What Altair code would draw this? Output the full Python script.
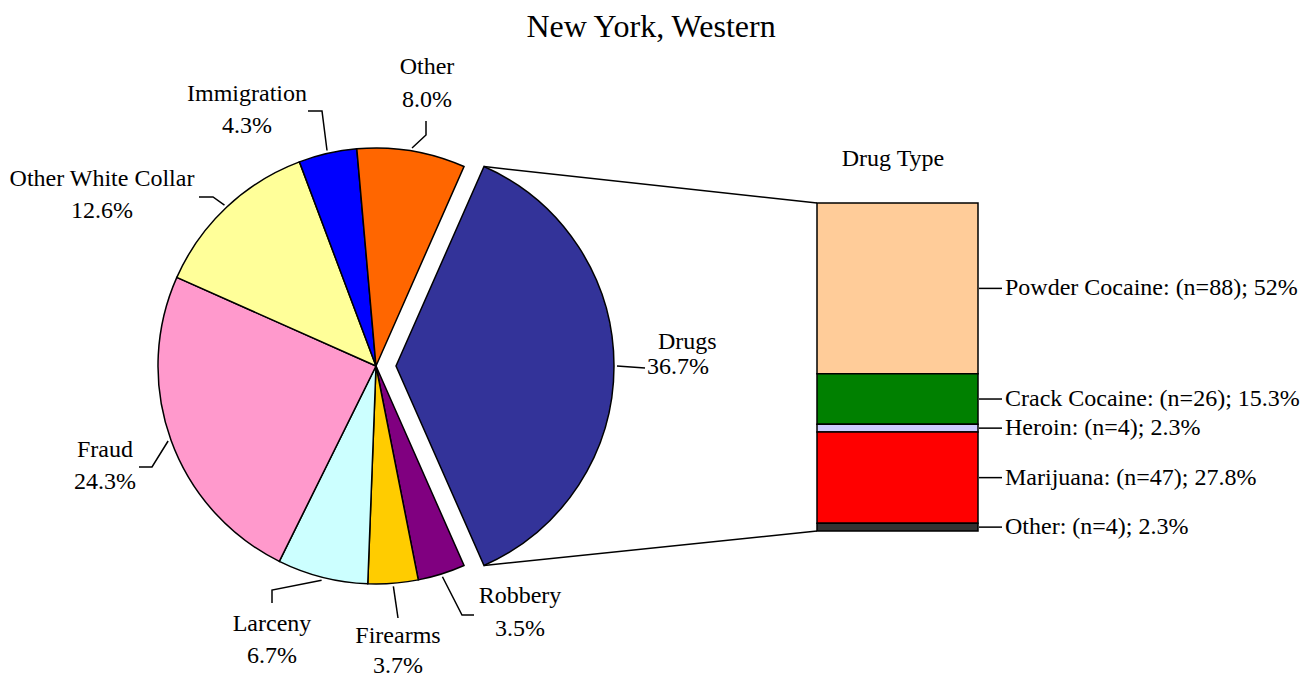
import math
import altair as alt
import pandas as pd

# ---------------- data ----------------
title_text = "New York, Western"
crime_types = ["Drugs", "Robbery", "Firearms", "Larceny", "Fraud",
               "Other White Collar", "Immigration", "Other"]
crime_pct = [36.7, 3.5, 3.7, 6.7, 24.3, 12.6, 4.3, 8.0]
crime_colors = ["#333399", "#800080", "#FFCC00", "#CCFFFF", "#FF99CC",
                "#FFFF99", "#0000FF", "#FF6600"]

drug_title = "Drug Type"
drug_types = ["Powder Cocaine", "Crack Cocaine", "Heroin", "Marijuana", "Other"]
drug_counts = [88, 26, 4, 47, 4]
drug_pct_labels = ["52%", "15.3%", "2.3%", "27.8%", "2.3%"]
drug_colors = ["#FFCC99", "#008000", "#CCCCFF", "#FF0000", "#333333"]

# ---------------- layout (page pixels) ----------------
M = 8
W, H = 1312 - 2 * M, 686 - 2 * M
FONT = "Liberation Serif"
FS = 24
BAR_FS = 24
TITLE_FS = 32
PIE_CX, PIE_CY, PIE_R = 376 - M, 366 - M, 218
EXPLODE = 20
BAR_X0, BAR_X1, BAR_TOP, BAR_BOTTOM = 817 - M, 978 - M, 203 - M, 531 - M

# label placement: (center x, name baseline, pct baseline, leader bend points)
label_layout = {
    "Other": (427, 74, 107, [(426, 135), (426, 121)]),
    "Immigration": (247, 101, 133, [(322, 111), (308, 111)]),
    "Other White Collar": (102, 186, 218, [(213, 197), (199, 197)]),
    "Fraud": (105, 457, 489, [(152, 467), (139, 467)]),
    "Larceny": (272, 631, 663, [(272, 590), (272, 603)]),
    "Firearms": (398, 643, 673, [(398, 618)]),
    "Robbery": (520, 603, 636, [(462, 615), (474, 615)]),
}
drugs_label = {"name": (658, 349), "pct": (647, 374), "leader_end": (645, 368)}

# ---------------- derived tables ----------------
total = sum(crime_pct)
a0 = math.pi / 2 - math.pi * crime_pct[0] / total

pie_df = pd.DataFrame({"name": crime_types, "pct": crime_pct,
                       "idx": list(range(len(crime_types)))})

theta_scale = alt.Scale(domain=[0, total], range=[a0, a0 + 2 * math.pi])
color_enc = alt.Color("name:N", scale=alt.Scale(domain=crime_types, range=crime_colors),
                      legend=None)
is_drugs = alt.datum.name == "Drugs"

pie_rest = alt.Chart(pie_df).mark_arc(radius=PIE_R, stroke="black", strokeWidth=1.5).encode(
    theta=alt.Theta("pct:Q", stack=True, scale=theta_scale),
    order=alt.Order("idx:Q", sort="ascending"),
    color=color_enc,
    x=alt.value(PIE_CX), y=alt.value(PIE_CY),
    fillOpacity=alt.condition(is_drugs, alt.value(0), alt.value(1)),
    strokeOpacity=alt.condition(is_drugs, alt.value(0), alt.value(1)),
)
pie_drugs = alt.Chart(pie_df).mark_arc(radius=PIE_R, stroke="black", strokeWidth=1.5).encode(
    theta=alt.Theta("pct:Q", stack=True, scale=theta_scale),
    order=alt.Order("idx:Q", sort="ascending"),
    color=color_enc,
    x=alt.value(PIE_CX + EXPLODE), y=alt.value(PIE_CY),
    fillOpacity=alt.condition(is_drugs, alt.value(1), alt.value(0)),
    strokeOpacity=alt.condition(is_drugs, alt.value(1), alt.value(0)),
)

# leader lines & labels
leader_rows, text_rows = [], []
cum = 0.0
for name, pct in zip(crime_types, crime_pct):
    mid = a0 + 2 * math.pi * (cum + pct / 2) / total
    cum += pct
    cx = PIE_CX + (EXPLODE if name == "Drugs" else 0)
    sx = cx + (PIE_R + 3) * math.sin(mid)
    sy = PIE_CY - (PIE_R + 3) * math.cos(mid)
    pct_txt = f"{pct:.1f}%"
    if name == "Drugs":
        pts = [(sx, sy), (drugs_label["leader_end"][0] - M, drugs_label["leader_end"][1] - M)]
    else:
        lx, ny, py, bends = label_layout[name]
        pts = [(sx, sy)] + [(bx - M, by - M) for bx, by in bends]
        text_rows.append({"t": name, "px": lx - M, "py": ny - M})
        text_rows.append({"t": pct_txt, "px": lx - M, "py": py - M})
    for k, (px, py) in enumerate(pts):
        leader_rows.append({"label": name, "k": k, "px": px, "py": py})

leaders = alt.Chart(pd.DataFrame(leader_rows)).mark_line(
    color="black", strokeWidth=1.5).encode(
    x=alt.X("px:Q", scale=None, axis=None),
    y=alt.Y("py:Q", scale=None, axis=None),
    detail="label:N", order="k:Q")

pie_labels = alt.Chart(pd.DataFrame(text_rows)).mark_text(
    font=FONT, fontSize=FS, baseline="alphabetic", align="center", color="black").encode(
    x=alt.X("px:Q", scale=None, axis=None),
    y=alt.Y("py:Q", scale=None, axis=None),
    text="t:N")

drugs_text = pd.DataFrame([
    {"t": "Drugs", "px": drugs_label["name"][0] - M, "py": drugs_label["name"][1] - M},
    {"t": f"{crime_pct[0]:.1f}%", "px": drugs_label["pct"][0] - M, "py": drugs_label["pct"][1] - M},
])
drugs_labels = alt.Chart(drugs_text).mark_text(
    font=FONT, fontSize=FS, baseline="alphabetic", align="left", color="black").encode(
    x=alt.X("px:Q", scale=None, axis=None),
    y=alt.Y("py:Q", scale=None, axis=None),
    text="t:N")

# connectors from exploded slice to the bar
top_x = PIE_CX + EXPLODE + PIE_R * math.sin(a0)
top_y = PIE_CY - PIE_R * math.cos(a0)
bot_y = PIE_CY + PIE_R * math.cos(a0)
conn_df = pd.DataFrame([
    {"x1": top_x, "y1": top_y, "x2": BAR_X0, "y2": BAR_TOP},
    {"x1": top_x, "y1": bot_y, "x2": BAR_X0, "y2": BAR_BOTTOM},
])
connectors = alt.Chart(conn_df).mark_rule(color="black", strokeWidth=1.5).encode(
    x=alt.X("x1:Q", scale=None, axis=None), y=alt.Y("y1:Q", scale=None, axis=None),
    x2="x2:Q", y2="y2:Q")

# stacked bar
bar_df = pd.DataFrame({
    "drug": drug_types, "n": drug_counts, "k": list(range(len(drug_types))),
    "label": [f"{d}: (n={n}); {p}" for d, n, p in zip(drug_types, drug_counts, drug_pct_labels)],
})
ybar = alt.Scale(domain=[0, sum(drug_counts)], range=[BAR_BOTTOM, BAR_TOP], nice=False)
bar_base = alt.Chart(bar_df).transform_stack(
    stack="n", groupby=[], as_=["y0", "y1"], sort=[alt.SortField("k", order="descending")]
).transform_calculate(mid="(datum.y0 + datum.y1) / 2")

bar = bar_base.mark_bar(stroke="black", strokeWidth=1.5).encode(
    y=alt.Y("y0:Q", scale=ybar, axis=None), y2="y1:Q",
    x=alt.value(BAR_X0), x2=alt.value(BAR_X1),
    color=alt.Color("drug:N", scale=alt.Scale(domain=drug_types, range=drug_colors), legend=None))

bar_leaders = bar_base.mark_rule(color="black", strokeWidth=1.5).encode(
    y=alt.Y("mid:Q", scale=ybar, axis=None),
    x=alt.value(BAR_X1 + 1), x2=alt.value(BAR_X1 + 24))

bar_labels = bar_base.mark_text(
    font=FONT, fontSize=BAR_FS, align="left", baseline="middle", color="black").encode(
    y=alt.Y("mid:Q", scale=ybar, axis=None),
    x=alt.value(BAR_X1 + 27), text="label:N")

# titles
titles_df = pd.DataFrame([
    {"t": title_text, "px": 651 - M, "py": 37 - M, "s": TITLE_FS},
    {"t": drug_title, "px": 893 - M, "py": 166 - M, "s": FS},
])
titles = alt.Chart(titles_df).mark_text(
    font=FONT, baseline="alphabetic", align="center", color="black").encode(
    x=alt.X("px:Q", scale=None, axis=None),
    y=alt.Y("py:Q", scale=None, axis=None),
    size=alt.Size("s:Q", scale=None, legend=None),
    text="t:N")

chart = alt.layer(
    connectors, pie_rest, pie_drugs, leaders, pie_labels, drugs_labels,
    bar, bar_leaders, bar_labels, titles
).resolve_scale(
    x="independent", y="independent", color="independent"
).properties(
    width=W, height=H, autosize=alt.AutoSizeParams(type="none"), padding=0
).configure_view(stroke=None)

chart.save("out.html", embed_options={"renderer": "svg", "actions": False})
